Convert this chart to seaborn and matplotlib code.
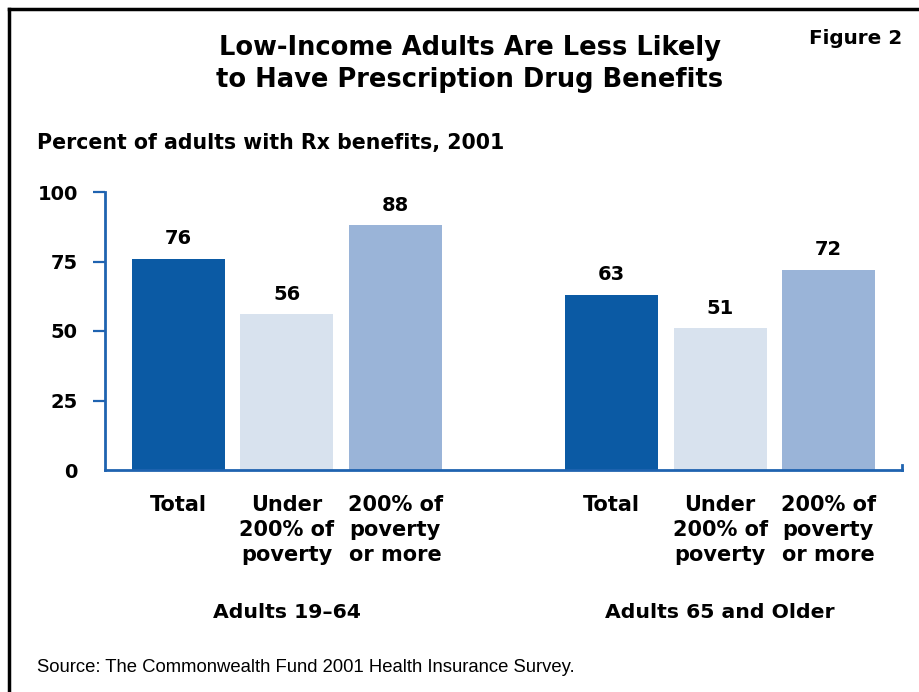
import matplotlib
matplotlib.use("Agg")
import matplotlib.pyplot as plt
from matplotlib.lines import Line2D
import pandas as pd
import seaborn as sns

# Data
groups = ["Adults 19\u201364", "Adults 65 and Older"]
categories = ["Total", "Under\n200% of\npoverty", "200% of\npoverty\nor more"]
values_19_64 = [76, 56, 88]
values_65_plus = [63, 51, 72]
y_ticks = [0, 25, 50, 75, 100]

title = "Low-Income Adults Are Less Likely\nto Have Prescription Drug Benefits"
subtitle = "Percent of adults with Rx benefits, 2001"
source = "Source: The Commonwealth Fund 2001 Health Insurance Survey."

palette = {categories[0]: "#0B5AA4", categories[1]: "#D8E2EE", categories[2]: "#9AB4D8"}
axis_blue = "#1F63B0"

# Long-form table: one row per bar; the two groups are separated by an empty slot
rows = []
for g, vals in enumerate([values_19_64, values_65_plus]):
    for c, v in enumerate(vals):
        rows.append({"group": groups[g], "category": categories[c],
                     "pos": g * 4 + c, "value": v})
df = pd.DataFrame(rows)

W, H = 919, 692
fig = plt.figure(figsize=(W / 100, H / 100), dpi=100)
fig.patch.set_facecolor("white")

def fx(px):
    return px / W

def fy(py):
    return 1 - py / H

ax = fig.add_axes([fx(105), fy(470), fx(902) - fx(105), fy(192) - fy(470)])
sns.barplot(data=df, x="pos", y="value", hue="category", palette=palette,
            native_scale=True, dodge=False, width=0.86, legend=False,
            saturation=1, ax=ax)

ax.set_xlim(-0.68, 6.68)
ax.set_ylim(0, 100)
ax.set_xlabel("")
ax.set_ylabel("")
ax.set_facecolor("white")

ax.spines["top"].set_visible(False)
for side in ["left", "bottom", "right"]:
    ax.spines[side].set_color(axis_blue)
    ax.spines[side].set_linewidth(2)
ax.spines["right"].set_bounds(0, 1.8)

ax.set_yticks(y_ticks)
ax.set_yticklabels([str(t) for t in y_ticks], fontsize=14, fontweight="bold")
ax.tick_params(axis="y", direction="out", length=8.5, width=1.6, color=axis_blue, pad=11)
ax.yaxis.get_major_ticks()[0].tick1line.set_visible(False)

ax.set_xticks(df["pos"].tolist())
ax.set_xticklabels(df["category"].tolist(), fontsize=15, fontweight="bold", linespacing=1.32)
ax.tick_params(axis="x", length=0, pad=18)

for cont in ax.containers:
    ax.bar_label(cont, fmt="%d", padding=7.5, fontsize=14, fontweight="bold")

# Group captions under the category labels
caption_y = -(613 - 470) / (470 - 192)
for g, name in enumerate(groups):
    ax.text(g * 4 + 1, caption_y, name, transform=ax.get_xaxis_transform(),
            ha="center", va="center", fontsize=14.7, fontweight="bold")

fig.text(fx(470), fy(64), title, ha="center", va="center", fontsize=18.5,
         fontweight="bold", linespacing=1.28)
fig.text(fx(902), fy(38), "Figure 2", ha="right", va="center", fontsize=14.4,
         fontweight="bold")
fig.text(fx(37), fy(143), subtitle, ha="left", va="center", fontsize=14.8,
         fontweight="bold")
fig.text(fx(37), fy(667), source, ha="left", va="center", fontsize=13.3,
         family="Liberation Sans")

# Frame lines along the top and left edges
fig.add_artist(Line2D([fx(9), 1], [fy(9), fy(9)], transform=fig.transFigure,
                      color="black", lw=2.5))
fig.add_artist(Line2D([fx(9), fx(9)], [0, fy(9)], transform=fig.transFigure,
                      color="black", lw=2.5))

fig.savefig("out.png", dpi=100, facecolor="white")
